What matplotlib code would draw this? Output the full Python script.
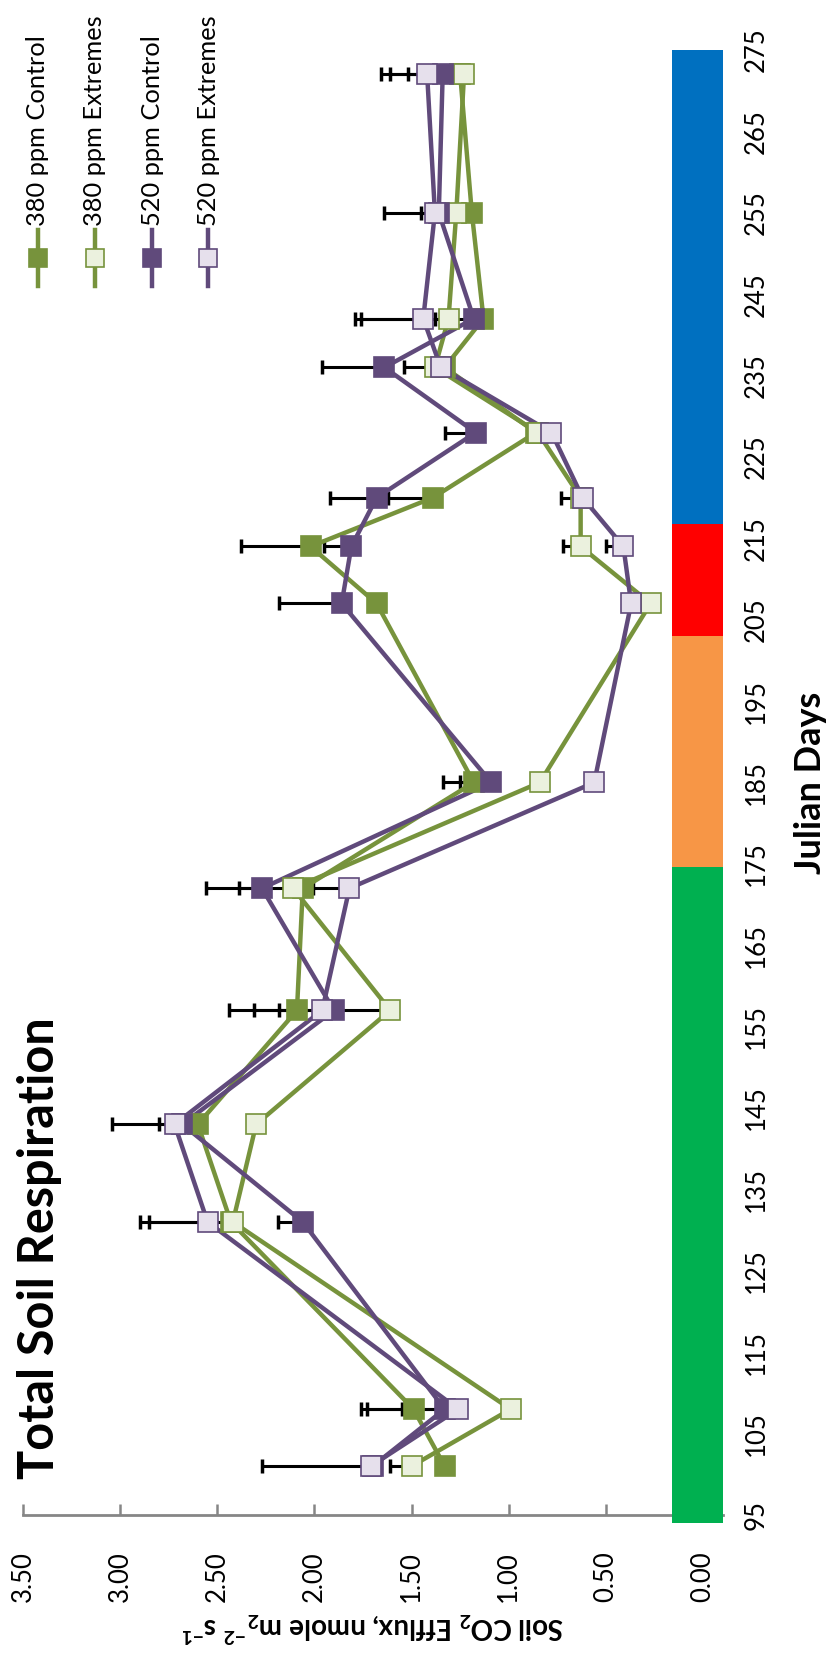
import matplotlib
matplotlib.use("Agg")
import matplotlib.pyplot as plt
from matplotlib.lines import Line2D

plt.rcParams['font.family'] = ['Lato', 'DejaVu Sans']
plt.rcParams['mathtext.fontset'] = 'custom'
plt.rcParams['mathtext.rm'] = 'Lato'
plt.rcParams['mathtext.bf'] = 'Lato:bold'

# sampling days (Julian)
days = [101, 108, 131, 143, 157, 172, 185, 207, 214, 220, 228, 236, 242, 255, 272]

# soil CO2 efflux per treatment
c380 = [1.33, 1.49, 2.43, 2.60, 2.09, 2.06, 1.18, 1.68, 2.02, 1.39, 0.86, 1.33, 1.13, 1.19, 1.25]
e380 = [1.50, 0.99, 2.42, 2.30, 1.61, 2.11, 0.84, 0.27, 0.63, 0.63, 0.85, 1.38, 1.31, 1.27, 1.23]
c520 = [1.70, 1.33, 2.06, 2.68, 1.90, 2.27, 1.09, 1.86, 1.81, 1.68, 1.17, 1.64, 1.18, 1.36, 1.34]
e520 = [1.71, 1.26, 2.55, 2.72, 1.96, 1.82, 0.56, 0.37, 0.41, 0.62, 0.78, 1.35, 1.44, 1.38, 1.42]

# upper error bars
err_c380 = [0, 0.06, 0, 0.20, 0.09, 0, 0.16, 0, 0.36, 0.23, 0, 0, 0, 0, 0]
err_e380 = [0.11, 0, 0.43, 0, 0.70, 0.28, 0, 0.07, 0.09, 0.10, 0, 0.16, 0.45, 0.18, 0.29]
err_c520 = [0, 0.40, 0.13, 0, 0.54, 0.29, 0.16, 0.32, 0.14, 0.24, 0.16, 0.32, 0.20, 0, 0.27]
err_e520 = [0.56, 0.50, 0.35, 0.32, 0, 0.19, 0.04, 0, 0.09, 0, 0, 0, 0.35, 0.26, 0.24]

labels = ["380 ppm Control", "380 ppm Extremes", "520 ppm Control", "520 ppm Extremes"]

# season band along the day axis
period_start = [94, 174.6, 203, 216.7]
period_end = [174.6, 203, 216.7, 275]
period_colors = ['#00B050', '#F79646', '#FF0000', '#0070C0']

green = '#77933C'
purple = '#604A7B'
series = [
    (c380, err_c380, green, green),
    (e380, err_e380, '#EBF1DE', green),
    (c520, err_c520, purple, purple),
    (e520, err_e520, '#E6E0EC', purple),
]

fig = plt.figure(figsize=(8.34, 16.6), dpi=100)
ax = fig.add_axes([23 / 834, 145 / 1660, 700 / 834, 1465 / 1660])

for vals, err, face, edge in series:
    ax.errorbar(vals, days, xerr=[[0] * len(err), err], fmt='none',
                ecolor='black', elinewidth=2.2, capsize=5, capthick=2.5, zorder=3)
for vals, err, face, edge in series:
    ax.plot(vals, days, color=edge, lw=3.2, zorder=4)
    ax.plot(vals, days, ls='none', marker='s', ms=14.5, mfc=face, mec=edge,
            mew=1.2, zorder=5)

for s, e, c in zip(period_start, period_end, period_colors):
    ax.barh(s, width=0.263, left=-0.103, height=e - s, align='edge',
            color=c, zorder=6, clip_on=False)

ax.set_xlim(3.5, 3.5 - 700 / 194.3)
ax.set_ylim(95, 275)

for sp in ['top', 'left', 'right']:
    ax.spines[sp].set_visible(False)
ax.spines['bottom'].set_color('#868686')
ax.spines['bottom'].set_linewidth(2)

xt = [0, 0.5, 1.0, 1.5, 2.0, 2.5, 3.0, 3.5]
ax.set_xticks(xt)
ax.set_xticklabels(['%.2f' % v for v in xt], rotation=90, fontsize=18.5)
ax.tick_params(axis='x', direction='in', length=8, width=1.8, color='#868686', pad=26)

yt = list(range(95, 276, 10))
ax.yaxis.tick_right()
ax.set_yticks(yt)
ax.set_yticklabels([str(v) for v in yt], rotation=90, va='center', fontsize=18.5)
ax.tick_params(axis='y', length=0, pad=15)

ax.set_xlabel(r"Soil CO$_\mathbf{2}$ Efflux, nmole m$_\mathbf{2}$$^\mathbf{-2}$ s$^\mathbf{-1}$",
              rotation=180, fontsize=20, fontweight='bold', labelpad=6)
ax.yaxis.set_label_position('right')
ax.set_ylabel("Julian Days", rotation=90, fontsize=26, fontweight='bold', labelpad=18)

fig.text(40 / 834, 1 - 1248 / 1660, "Total Soil Respiration", rotation=90,
         fontsize=35, fontweight='bold', ha='center', va='center')

# legend, laid out vertically like the rest of the chart
leg_x = [38, 95, 152, 208]
for lx, lab, (vals, err, face, edge) in zip(leg_x, labels, series):
    fx = lx / 834
    fig.add_artist(Line2D([fx, fx], [1 - 230 / 1660, 1 - 286 / 1660],
                          color=edge, lw=3.2, transform=fig.transFigure))
    fig.add_artist(Line2D([fx], [1 - 258 / 1660], marker='s', ms=13, mfc=face,
                          mec=edge, mew=1.2, transform=fig.transFigure))
    fig.text(fx, 1 - 226 / 1660, lab, rotation=90, fontsize=18.3, ha='center', va='bottom')

fig.savefig("out.png", dpi=100)
